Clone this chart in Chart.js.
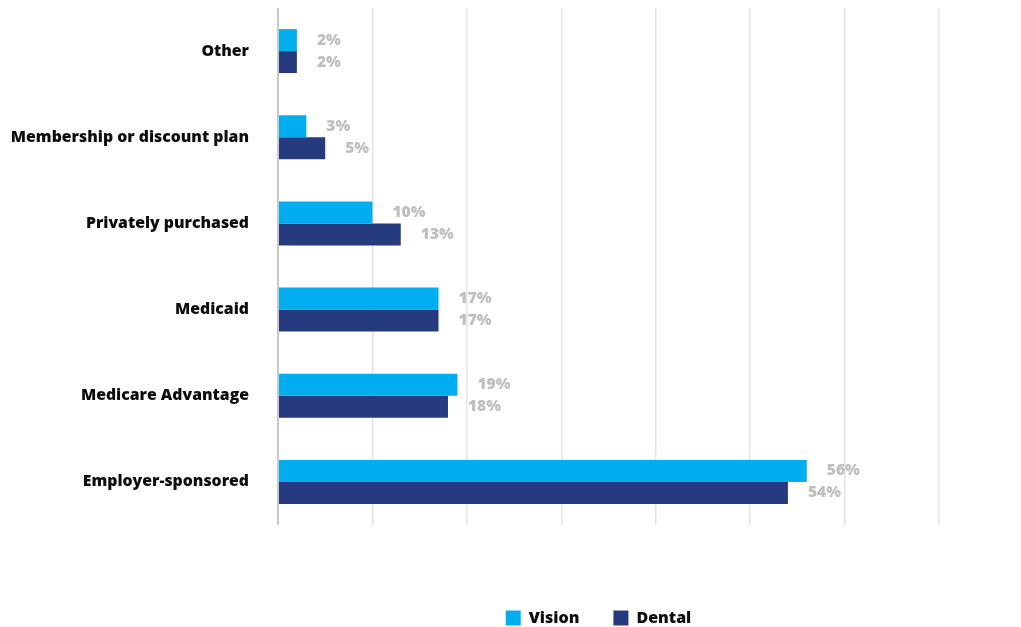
<!DOCTYPE html>
<html>
<head>
<meta charset="utf-8">
<script src="https://cdn.jsdelivr.net/npm/chart.js@4"></script>
<style>
  html, body { margin: 0; padding: 0; background: #fff; }
  #wrap { width: 1021px; height: 627px; }
</style>
</head>
<body>
<div id="wrap"><canvas id="myChart" width="1021" height="627"></canvas></div>
<script>
var categories = ["Other", "Membership or discount plan", "Privately purchased", "Medicaid", "Medicare Advantage", "Employer-sponsored"];
var vision = [2, 3, 10, 17, 19, 56];
var dental = [2, 5, 13, 17, 18, 54];
var xTicks = [0, 10, 20, 30, 40, 50, 60, 70];

var FONT = "'Open Sans', 'DejaVu Sans', sans-serif";

// percent labels just past the end of each bar
var barLabels = {
  id: 'barLabels',
  afterDatasetsDraw(chart) {
    const ctx = chart.ctx;
    ctx.save();
    ctx.font = "800 15.6px " + FONT;
    ctx.fillStyle = "#bfbfbf";
    ctx.textBaseline = "middle";
    ctx.textAlign = "left";
    chart.data.datasets.forEach((ds, i) => {
      chart.getDatasetMeta(i).data.forEach((bar, j) => {
        ctx.fillText(ds.data[j] + "%", bar.x + 20, bar.y);
      });
    });
    ctx.restore();
  }
};

// legend sits under the plot area, a bit lower than the default
var legendShift = {
  id: 'legendShift',
  afterLayout(chart) {
    const lg = chart.legend;
    const dx = 129, dy = 9;
    lg.left += dx;
    lg.right += dx;
    lg.top += dy;
    lg.bottom += dy;
    lg.adjustHitBoxes();
  }
};

new Chart(document.getElementById("myChart"), {
  type: 'bar',
  data: {
    labels: categories,
    datasets: [
      { label: "Vision", data: vision, backgroundColor: "#00aeef", barPercentage: 1, categoryPercentage: 0.51 },
      { label: "Dental", data: dental, backgroundColor: "#253a7f", barPercentage: 1, categoryPercentage: 0.51 }
    ]
  },
  options: {
    indexAxis: 'y',
    responsive: false,
    animation: false,
    layout: { padding: { top: 8, right: 82, bottom: 0, left: 0 } },
    scales: {
      x: {
        min: 0,
        max: 70,
        afterBuildTicks: scale => { scale.ticks = xTicks.map(v => ({ value: v })); },
        afterFit: scale => { scale.height = 42; },
        ticks: { display: false },
        grid: {
          color: ctx => ctx.tick && ctx.tick.value === 0 ? "#c8c8c8" : "#e3e3e3",
          lineWidth: ctx => ctx.tick && ctx.tick.value === 0 ? 2 : 1.5,
          drawTicks: false
        },
        border: { display: false }
      },
      y: {
        afterFit: scale => {
          scale.width = 278;
          scale.paddingTop = 0;
          scale.paddingBottom = 0;
        },
        grid: { display: false, drawTicks: false },
        border: { display: false },
        ticks: {
          padding: 29,
          color: "#0d0d0d",
          font: { family: FONT, size: 15.8, weight: 800 }
        }
      }
    },
    plugins: {
      legend: {
        position: 'bottom',
        labels: {
          boxWidth: 15,
          boxHeight: 15,
          padding: 34,
          color: "#0d0d0d",
          font: { family: FONT, size: 16, weight: 800 }
        }
      },
      tooltip: { enabled: false }
    }
  },
  plugins: [barLabels, legendShift]
});
</script>
</body>
</html>
